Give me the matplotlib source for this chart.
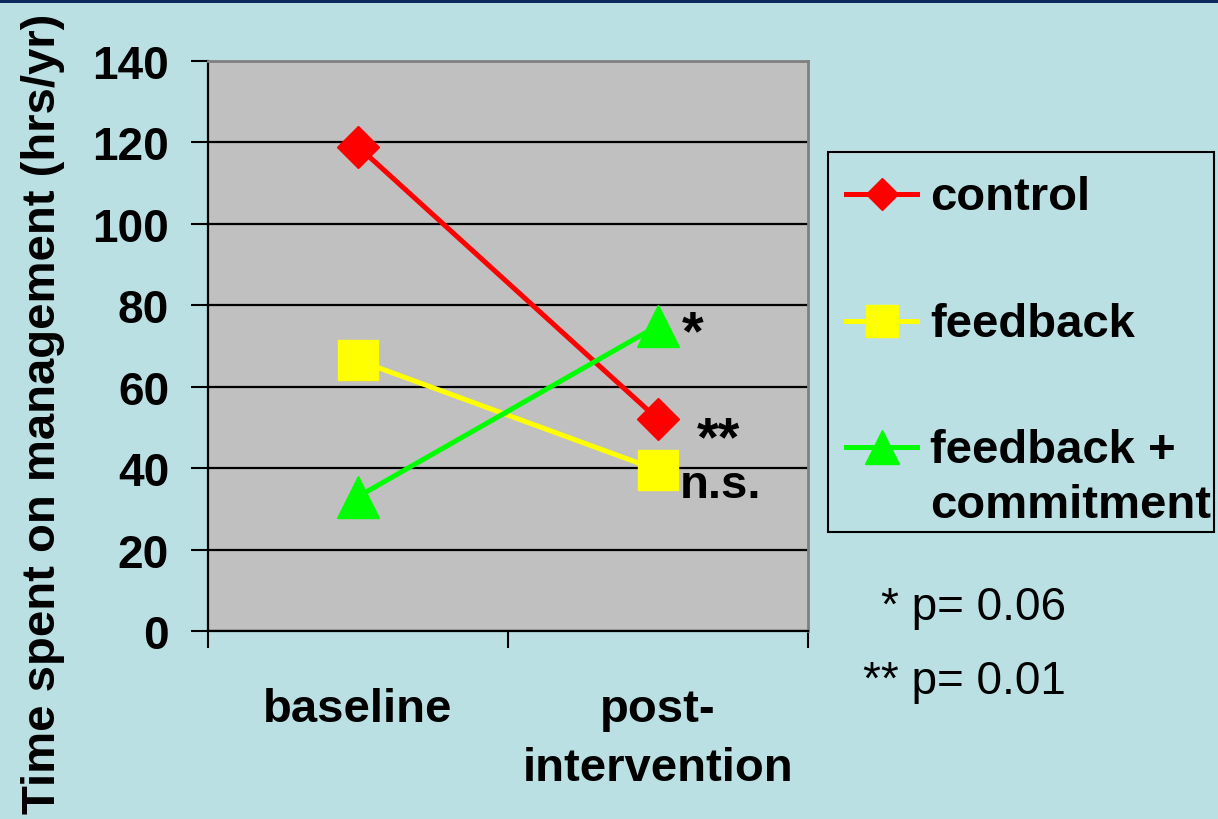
import matplotlib.pyplot as plt
from matplotlib.lines import Line2D
from matplotlib.patches import Rectangle

plt.rcParams['font.family'] = ['Liberation Sans', 'DejaVu Sans']

# data
periods = ["baseline", "post-\nintervention"]
control = [119, 52]
feedback = [66.5, 39.5]
commitment = [33, 75]
post_marks = ["*", "**", "n.s."]   # commitment, control, feedback
series_names = ["control", "feedback", "feedback +\ncommitment"]
p_notes = ["* p= 0.06", "** p= 0.01"]

bg = "#bbe0e3"
W, H = 1218, 820

fig = plt.figure(figsize=(W / 100, H / 100), dpi=100, facecolor=bg)
ax = fig.add_axes([208 / W, 1 - 632 / H, 600 / W, 570 / H])
ax.set_facecolor("#c0c0c0")

x = list(range(len(periods)))
ax.plot(x, control, color="#ff0000", lw=3.6, marker="D", ms=21, zorder=3)
ax.plot(x, feedback, color="#ffff00", lw=3.6, marker="s", ms=29, zorder=3)
ax.plot(x, commitment, color="#00ff00", lw=3.6, marker="^", ms=30, zorder=3)

ax.set_xlim(-0.5, 1.5)
ax.set_ylim(0, 140)
ax.set_yticks(range(0, 141, 20))
ax.yaxis.grid(True, color="black", lw=1.6)
ax.set_axisbelow(True)

ax.set_xticks([-0.5, 0.5, 1.5])
ax.set_xticklabels([])
ax.set_xticks(x, minor=True)
ax.set_xticklabels(periods, minor=True, fontsize=34, fontweight="bold", va="top",
                   linespacing=1.45)
ax.tick_params(axis="x", which="minor", length=0, pad=40)
ax.tick_params(axis="x", which="major", length=12, width=1.5, direction="out")
ax.tick_params(axis="y", length=12, width=1.5, pad=16, labelsize=33)
for lab in ax.get_yticklabels():
    lab.set_fontweight("bold")

for side in ["left", "bottom"]:
    ax.spines[side].set_color("black")
    ax.spines[side].set_linewidth(1.6)
for side in ["top", "right"]:
    ax.spines[side].set_color("#808080")
    ax.spines[side].set_linewidth(2)

# significance marks at the post-intervention points
ax.annotate(post_marks[0], xy=(1, commitment[1]), xytext=(17, -6), textcoords="offset points",
            fontsize=40, fontweight="bold", va="center", ha="left")
ax.annotate(post_marks[1], xy=(1, control[1]), xytext=(28, -15), textcoords="offset points",
            fontsize=40, fontweight="bold", va="center", ha="left")
ax.annotate(post_marks[2], xy=(1, feedback[1]), xytext=(16, -11), textcoords="offset points",
            fontsize=34, fontweight="bold", va="center", ha="left")

fig.text(43 / W, 1 - 414 / H, "Time spent on management (hrs/yr)", rotation=90,
         ha="center", va="center", fontsize=34, fontweight="bold")


# legend drawn by hand so the two-line label sits like the original
def fx(px):
    return px / W


def fy(py):
    return 1 - py / H


fig.add_artist(Rectangle((fx(828), fy(533)), fx(1214) - fx(828), fy(153) - fy(533),
                         transform=fig.transFigure, fill=False, ec="black", lw=1.5))
leg_styles = [("#ff0000", "D", 16), ("#ffff00", "s", 23), ("#00ff00", "^", 24)]
leg_rows = [195, 322, 448]
for (col, mk, ms), row, name in zip(leg_styles, leg_rows, series_names):
    fig.add_artist(Line2D([fx(846), fx(917)], [fy(row), fy(row)], transform=fig.transFigure,
                          color=col, lw=3.6))
    fig.add_artist(Line2D([fx(882)], [fy(row)], transform=fig.transFigure,
                          color=col, marker=mk, ms=ms, lw=0))
    lines = name.split("\n")
    for i, ln in enumerate(lines):
        fig.text(fx(930), fy(row + 3 + 55 * i), ln, ha="left", va="center",
                 fontsize=34, fontweight="bold")

fig.text(fx(1066), fy(608), p_notes[0], ha="right", va="center", fontsize=33)
fig.text(fx(1066), fy(682), p_notes[1], ha="right", va="center", fontsize=33)

# dark band along the top edge
fig.add_artist(Rectangle((0, fy(4)), 1, fy(0) - fy(4), transform=fig.transFigure,
                         color="#0b2a5c", lw=0))

fig.savefig("out.png", dpi=100, facecolor=bg)
